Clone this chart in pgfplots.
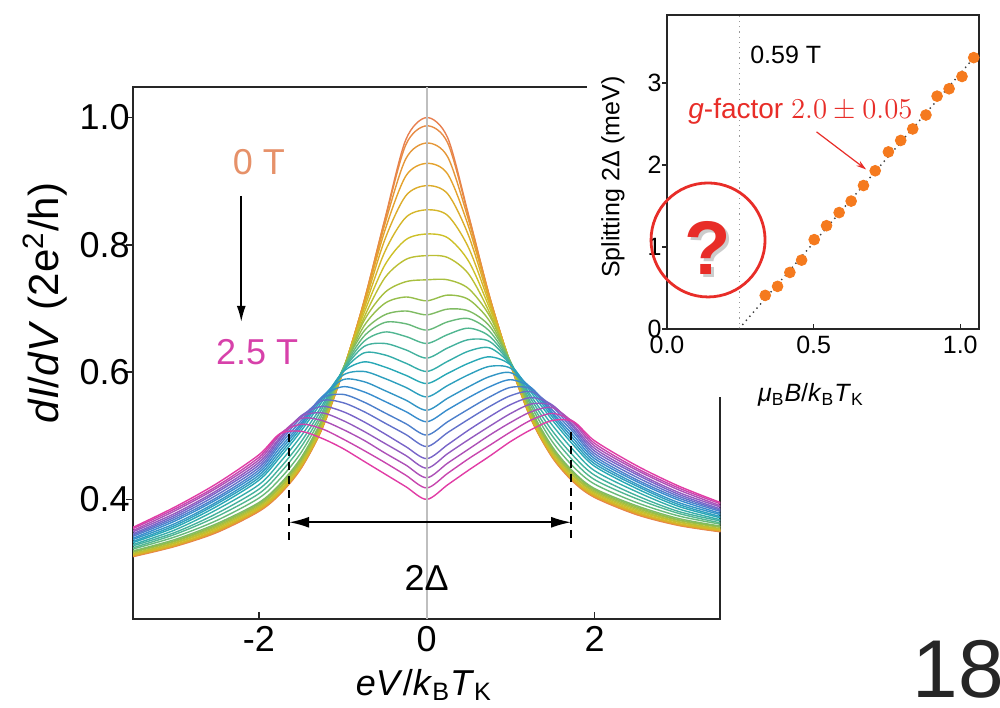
\documentclass[border=0pt]{standalone}
\usepackage{fontspec}
\setmainfont{Liberation Sans}
\usepackage{pgfplots}
\pgfplotsset{compat=1.18}
\usepackage{pgfplotstable}
\usetikzlibrary{arrows.meta}

\definecolor{K0}{RGB}{232,128,80}
\definecolor{K3}{RGB}{228,162,45}
\definecolor{K6}{RGB}{205,192,40}
\definecolor{K9}{RGB}{150,190,75}
\definecolor{K12}{RGB}{80,182,145}
\definecolor{K15}{RGB}{40,168,182}
\definecolor{K18}{RGB}{55,140,205}
\definecolor{K21}{RGB}{120,100,200}
\definecolor{K25}{RGB}{225,60,165}
\colorlet{c0}{K0}
\colorlet{c1}{K3!33!K0}
\colorlet{c2}{K3!67!K0}
\colorlet{c3}{K3}
\colorlet{c4}{K6!33!K3}
\colorlet{c5}{K6!67!K3}
\colorlet{c6}{K6}
\colorlet{c7}{K9!33!K6}
\colorlet{c8}{K9!67!K6}
\colorlet{c9}{K9}
\colorlet{c10}{K12!33!K9}
\colorlet{c11}{K12!67!K9}
\colorlet{c12}{K12}
\colorlet{c13}{K15!33!K12}
\colorlet{c14}{K15!67!K12}
\colorlet{c15}{K15}
\colorlet{c16}{K18!33!K15}
\colorlet{c17}{K18!67!K15}
\colorlet{c18}{K18}
\colorlet{c19}{K21!33!K18}
\colorlet{c20}{K21!67!K18}
\colorlet{c21}{K21}
\colorlet{c22}{K25!25!K21}
\colorlet{c23}{K25!50!K21}
\colorlet{c24}{K25!75!K21}
\colorlet{c25}{K25}
\definecolor{zeroT}{RGB}{230,145,105}
\definecolor{highT}{RGB}{215,65,170}
\definecolor{dotor}{RGB}{245,122,30}
\definecolor{annred}{RGB}{232,45,40}

\pgfplotstableread{
x y0 y1 y2 y3 y4 y5 y6 y7 y8 y9 y10 y11 y12 y13 y14 y15 y16 y17 y18 y19 y20 y21 y22 y23 y24 y25
-3.5 0.310 0.311 0.311 0.312 0.312 0.313 0.314 0.315 0.317 0.318 0.319 0.322 0.324 0.327 0.329 0.332 0.334 0.337 0.339 0.342 0.344 0.346 0.349 0.351 0.354 0.356
-3.0 0.326 0.327 0.327 0.328 0.328 0.329 0.331 0.332 0.334 0.335 0.337 0.341 0.345 0.348 0.352 0.356 0.359 0.362 0.366 0.369 0.372 0.375 0.378 0.382 0.385 0.388
-2.5 0.348 0.349 0.350 0.350 0.351 0.352 0.354 0.356 0.358 0.360 0.362 0.367 0.373 0.378 0.384 0.389 0.393 0.396 0.400 0.403 0.407 0.411 0.414 0.418 0.421 0.425
-2.0 0.381 0.382 0.383 0.383 0.384 0.385 0.387 0.389 0.391 0.393 0.395 0.402 0.409 0.416 0.423 0.430 0.434 0.438 0.442 0.446 0.450 0.454 0.458 0.462 0.466 0.470
-1.75 0.408 0.409 0.410 0.410 0.411 0.412 0.414 0.417 0.419 0.422 0.424 0.432 0.441 0.449 0.458 0.466 0.471 0.476 0.481 0.486 0.490 0.494 0.497 0.501 0.503 0.503
-1.5 0.448 0.449 0.450 0.450 0.451 0.452 0.455 0.457 0.460 0.462 0.465 0.473 0.482 0.490 0.499 0.507 0.512 0.516 0.519 0.523 0.528 0.531 0.530 0.527 0.518 0.507
-1.25 0.510 0.511 0.511 0.512 0.512 0.513 0.515 0.518 0.520 0.523 0.525 0.531 0.536 0.542 0.547 0.553 0.557 0.560 0.561 0.559 0.555 0.546 0.536 0.524 0.511 0.496
-1.0 0.600 0.600 0.601 0.601 0.602 0.602 0.603 0.603 0.604 0.604 0.605 0.604 0.603 0.602 0.601 0.600 0.595 0.588 0.577 0.565 0.552 0.538 0.524 0.510 0.495 0.480
-0.75 0.710 0.710 0.709 0.707 0.703 0.698 0.692 0.685 0.680 0.672 0.664 0.656 0.648 0.640 0.630 0.616 0.601 0.585 0.569 0.553 0.538 0.522 0.507 0.493 0.477 0.460
-0.5 0.840 0.838 0.832 0.822 0.808 0.789 0.768 0.748 0.725 0.708 0.690 0.678 0.663 0.645 0.627 0.608 0.590 0.571 0.554 0.536 0.520 0.503 0.488 0.473 0.458 0.440
-0.25 0.965 0.957 0.935 0.908 0.877 0.843 0.808 0.777 0.742 0.718 0.696 0.676 0.656 0.635 0.614 0.595 0.576 0.556 0.538 0.519 0.502 0.483 0.469 0.454 0.438 0.420
0 1.000 0.987 0.960 0.928 0.893 0.855 0.817 0.783 0.745 0.712 0.690 0.666 0.645 0.622 0.601 0.582 0.561 0.540 0.522 0.501 0.483 0.464 0.449 0.434 0.418 0.400
0.25 0.968 0.960 0.938 0.911 0.880 0.846 0.811 0.780 0.745 0.721 0.699 0.679 0.659 0.638 0.617 0.598 0.579 0.559 0.541 0.522 0.505 0.486 0.472 0.457 0.441 0.423
0.5 0.846 0.844 0.838 0.828 0.814 0.795 0.774 0.754 0.731 0.714 0.696 0.684 0.669 0.651 0.633 0.614 0.596 0.577 0.560 0.542 0.526 0.509 0.494 0.479 0.464 0.446
0.75 0.718 0.718 0.717 0.715 0.711 0.706 0.700 0.693 0.688 0.680 0.672 0.664 0.656 0.648 0.638 0.624 0.609 0.593 0.577 0.561 0.546 0.530 0.515 0.501 0.485 0.468
1.0 0.611 0.611 0.612 0.612 0.613 0.613 0.614 0.614 0.615 0.615 0.616 0.615 0.614 0.613 0.612 0.611 0.606 0.599 0.588 0.576 0.563 0.549 0.535 0.521 0.506 0.491
1.25 0.524 0.525 0.525 0.526 0.526 0.527 0.529 0.532 0.534 0.537 0.539 0.545 0.550 0.556 0.561 0.567 0.571 0.574 0.575 0.573 0.569 0.560 0.550 0.538 0.525 0.510
1.5 0.465 0.466 0.467 0.467 0.468 0.469 0.472 0.474 0.477 0.479 0.482 0.490 0.499 0.507 0.516 0.524 0.529 0.533 0.536 0.540 0.545 0.548 0.547 0.544 0.535 0.524
1.75 0.427 0.428 0.429 0.429 0.430 0.431 0.433 0.436 0.438 0.441 0.443 0.451 0.460 0.468 0.477 0.485 0.490 0.495 0.500 0.505 0.509 0.513 0.516 0.520 0.522 0.522
2.0 0.403 0.404 0.405 0.405 0.406 0.407 0.409 0.411 0.413 0.415 0.417 0.424 0.431 0.438 0.445 0.452 0.456 0.460 0.464 0.468 0.472 0.476 0.480 0.484 0.488 0.492
2.5 0.376 0.377 0.378 0.378 0.379 0.380 0.382 0.384 0.386 0.388 0.390 0.395 0.401 0.406 0.412 0.417 0.421 0.424 0.428 0.431 0.435 0.439 0.442 0.446 0.449 0.453
3.0 0.359 0.360 0.360 0.361 0.361 0.362 0.364 0.365 0.367 0.368 0.370 0.374 0.378 0.381 0.385 0.389 0.392 0.395 0.399 0.402 0.405 0.408 0.411 0.415 0.418 0.421
3.5 0.349 0.350 0.350 0.351 0.351 0.352 0.353 0.354 0.356 0.357 0.358 0.361 0.363 0.366 0.368 0.371 0.373 0.376 0.378 0.381 0.383 0.385 0.388 0.390 0.393 0.395
}\curves

\newcommand{\mainfont}{\fontsize{18}{21.6}\selectfont}
\newcommand{\insfont}{\fontsize{12.5}{15}\selectfont}

\begin{document}
\begin{tikzpicture}
\useasboundingbox (0,0) rectangle (500pt,353.5pt);
\begin{axis}[
  at={(66.5pt,44pt)}, anchor=south west,
  scale only axis, width=293.75pt, height=266pt,
  xmin=-3.5, xmax=3.5, ymin=0.212, ymax=1.048,
  xtick={-2,0,2}, xticklabels={-2,0,2},
  ytick={0.4,0.6,0.8,1.0}, yticklabels={0.4,0.6,0.8,1.0},
  xtick pos=left, ytick pos=left,
  tick align=inside, major tick length=3.5pt,
  ytick style={xshift=-3.5pt},
  tick style={line width=0.8pt, black!85},
  axis line style={line width=1pt, black!85},
  ticklabel style={font=\mainfont},
  yticklabel style={inner sep=0pt, xshift=-1.5pt},
  no markers,
]
\pgfplotsinvokeforeach{0,...,25}{
  \addplot[c#1, smooth, line width=0.7pt] table[x=x, y=y#1] {\curves};
}
\draw[black!25, line width=0.8pt] (axis cs:0,0.212) -- (axis cs:0,1.048);
\draw[black, line width=0.8pt, dash pattern=on 4pt off 3pt] (axis cs:-1.64,0.502) -- (axis cs:-1.64,0.331);
\draw[black, line width=0.8pt, dash pattern=on 4pt off 3pt] (axis cs:1.72,0.506) -- (axis cs:1.72,0.331);
\draw[black, line width=0.9pt, {Latex[length=10pt,width=5.5pt]}-{Latex[length=10pt,width=5.5pt]}] (axis cs:-1.64,0.364) -- (axis cs:1.72,0.364);
\draw[black, line width=0.8pt, -{Latex[length=8pt,width=4.5pt]}] (axis cs:-2.21,0.877) -- (axis cs:-2.21,0.679);
\node[text=zeroT, font=\mainfont] at (axis cs:-2.0,0.930) {0 T};
\node[text=highT, font=\mainfont] at (axis cs:-2.02,0.632) {2.5 T};
\node[font=\mainfont] at (axis cs:0,0.276) {2Δ};
\end{axis}

\node[rotate=90, font=\fontsize{21}{25}\selectfont] at (22.5pt,202pt) {\textit{dI}/\textit{dV} (2e\textsuperscript{2}/h)};
\node[anchor=base, font=\mainfont] at (212pt,6pt) {\textit{eV}/\textit{k}\textsubscript{B}\textit{T}\textsubscript{K}};

\fill[white] (293.5pt,155pt) rectangle (501pt,354pt);

\begin{axis}[
  at={(333.5pt,189pt)}, anchor=south west,
  scale only axis, width=156pt, height=157pt,
  xmin=0, xmax=1.064, ymin=0, ymax=3.83,
  xtick={0,0.5,1}, xticklabels={0.0,0.5,1.0},
  ytick={0,1,2,3}, yticklabels={0,1,2,3},
  xtick pos=left, ytick pos=left,
  tick align=inside, major tick length=2.5pt,
  ytick style={xshift=-2.5pt},
  tick style={line width=0.6pt, black!85},
  axis line style={line width=0.8pt, black!85},
  ticklabel style={font=\insfont},
  yticklabel style={inner sep=0pt, xshift=-2.5pt},
  clip=false,
]
\draw[black!40, dotted, line width=0.6pt] (axis cs:0.248,0) -- (axis cs:0.248,3.83);
\addplot[black!75, dotted, line width=0.7pt] coordinates {(0.245,0) (1.064,3.38)};
\addplot[only marks, mark=*, mark size=2.7pt, color=dotor] coordinates {
(0.335,0.41) (0.377,0.52) (0.419,0.69) (0.459,0.84) (0.502,1.09) (0.544,1.26)
(0.587,1.42) (0.628,1.56) (0.670,1.75) (0.710,1.93) (0.755,2.16) (0.797,2.30)
(0.838,2.44) (0.883,2.61) (0.921,2.84) (0.962,2.93) (1.006,3.08) (1.046,3.31)};
\node[anchor=west, font=\insfont] at (axis cs:0.26,3.34) {0.59 T};
\node[text=annred, font=\fontsize{14}{16}\selectfont] at (axis cs:0.455,2.65) {\textit{g}-factor $2.0\pm0.05$};
\draw[annred, line width=0.6pt, -{Stealth[length=5pt,width=3pt]}] (axis cs:0.510,2.404) -- (axis cs:0.679,1.946);
\draw[annred, line width=1.4pt] (axis cs:0.14,1.086) circle[radius=28.5pt];
\node[text=black!20, font=\fontsize{38}{42}\selectfont\bfseries] at ([xshift=1.2pt,yshift=-1.2pt]axis cs:0.14,0.985) {?};
\node[text=annred, font=\fontsize{38}{42}\selectfont\bfseries] at (axis cs:0.14,0.985) {?};
\end{axis}

\node[rotate=90, font=\insfont] at (306.5pt,265pt) {Splitting 2Δ (meV)};
\node[font=\insfont] at (405.5pt,156pt) {\textit{μ}\textsubscript{B}\textit{B}/\textit{k}\textsubscript{B}\textit{T}\textsubscript{K}};

\node[anchor=base west, inner sep=0pt, font=\fontsize{41}{48}\selectfont, text=black!85] at (456pt,5pt) {18};
\end{tikzpicture}
\end{document}
